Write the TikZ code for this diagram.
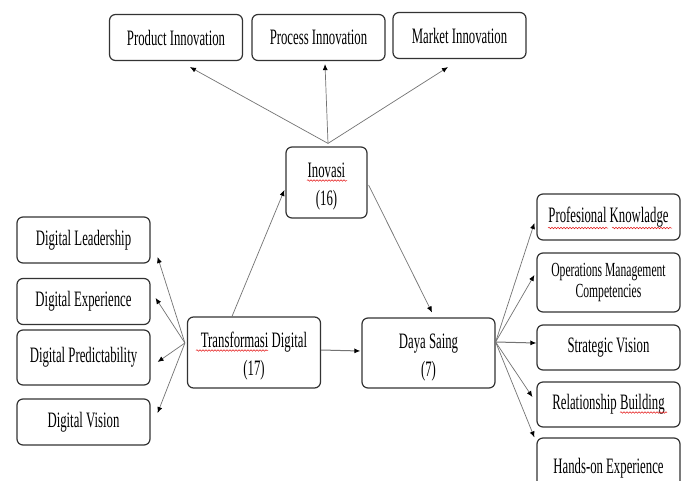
\documentclass[tikz,border=0pt]{standalone}
\usepackage{fontspec}
\setmainfont{Liberation Serif}[FakeStretch=0.58]
\usepackage{tikz}
\usetikzlibrary{arrows.meta,decorations.pathmorphing}
\definecolor{linecolor}{rgb}{0.45,0.45,0.45}
\definecolor{spellred}{rgb}{0.9,0.1,0.1}
\newcommand{\topstrut}{\rule{0pt}{23pt}}
\tikzset{
  box/.style={draw=black!80, line width=1.2pt, rounded corners=6pt, fill=white, minimum width=133pt, minimum height=46pt, font=\fontsize{22}{28}\selectfont, align=center, inner sep=2pt},
  rbox/.style={box, minimum width=143pt},
  flow/.style={-{Latex[length=6pt,width=5pt,black]}, draw=linecolor, line width=0.7pt},
  spell/.style={draw=spellred, line width=0.5pt, decorate, decoration={snake, amplitude=0.8pt, segment length=3pt}},
}

\begin{document}
\begin{tikzpicture}[x=1pt,y=-1pt]
\useasboundingbox[fill=white] (0,0) rectangle (688,480);
% innovation types
\node[box] (prod) at (176,37.5) {Product Innovation};
\node[box] (proc) at (318.5,37.5) {Process Innovation};
\node[box] (mark) at (459.5,35.5) {Market Innovation};
% main constructs
\node[box, minimum width=81pt, minimum height=71pt] (ino) at (326.5,182.5) {\topstrut Inovasi\\(16)};
\node[box, minimum height=71pt] (trans) at (254,352.5) {\topstrut Transformasi Digital\\(17)};
\node[box, minimum height=70pt] (daya) at (428.5,353) {\topstrut Daya Saing\\(7)};
% digital dimensions
\node[box] (dlead) at (83.5,240) {Digital Leadership};
\node[box] (dexp) at (83.5,301.5) {Digital Experience};
\node[box, minimum height=55pt] (dpred) at (83.5,357.5) {Digital Predictability};
\node[box] (dvis) at (83.5,422) {Digital Vision};
% competitiveness dimensions
\node[rbox] (prof) at (608.5,217) {Profesional Knowladge};
\node[rbox, minimum height=59pt, font=\fontsize{20}{21}\selectfont] (ops) at (608.5,282.5) {Operations Management\\Competencies};
\node[rbox, minimum height=45pt] (strat) at (608.5,347.5) {Strategic Vision};
\node[rbox, minimum height=45pt] (rel) at (608.5,404.5) {Relationship Building};
\node[rbox, minimum height=60pt] (hands) at (608.5,468) {Hands-on Experience};

\draw[flow] ([shift={(1.5,-3)}]ino.north) -- ([shift={(14,6)}]prod.south);
\draw[flow] ([shift={(1.5,-3)}]ino.north) -- ([shift={(6.5,3)}]proc.south);
\draw[flow] ([shift={(1.5,-3)}]ino.north) -- ([shift={(-11.5,8)}]mark.south);

\draw[flow] ([shift={(-22,0)}]trans.north) -- ([shift={(-1,7.5)}]ino.west);
\draw[flow] ([shift={(1,2.5)}]ino.east) -- ([shift={(3.5,-5)}]daya.north);
\draw[flow, line width=1pt] ([shift={(0,-2.5)}]trans.east) -- ([shift={(-1,-2)}]daya.west);

\draw[flow] ([shift={(-2,-9.5)}]trans.west) -- ([shift={(7,17)}]dlead.east);
\draw[flow] ([shift={(-2,-9.5)}]trans.west) -- ([shift={(5,-3.5)}]dexp.east);
\draw[flow] ([shift={(-2,-9.5)}]trans.west) -- ([shift={(7,4.5)}]dpred.east);
\draw[flow] ([shift={(-2,-9.5)}]trans.west) -- ([shift={(7,-9)}]dvis.east);

\draw[flow] ([shift={(0,-11)}]daya.east) -- ([shift={(-2,6)}]prof.west);
\draw[flow] ([shift={(0,-11)}]daya.east) -- ([shift={(-2,-7.5)}]ops.west);
\draw[flow, line width=1pt] ([shift={(0,-11)}]daya.east) -- ([shift={(0,-4.5)}]strat.west);
\draw[flow] ([shift={(0,-11)}]daya.east) -- ([shift={(-4,-7.5)}]rel.west);
\draw[flow] ([shift={(0,-11)}]daya.east) -- ([shift={(-2,0)}]hands.north west);

% spelling marks
\draw[spell] ([shift={(-19.5,-2)}]ino.center) -- ([shift={(20.5,-2)}]ino.center);
\draw[spell] ([shift={(-58,-2)}]trans.center) -- ([shift={(14,-2)}]trans.center);
\draw[spell] ([shift={(-60.5,11)}]prof.center) -- ([shift={(-0.5,11)}]prof.center);
\draw[spell] ([shift={(3.5,11)}]prof.center) -- ([shift={(63.5,11)}]prof.center);
\draw[spell] ([shift={(11.5,8)}]rel.center) -- ([shift={(58.5,8)}]rel.center);
\end{tikzpicture}
\end{document}
